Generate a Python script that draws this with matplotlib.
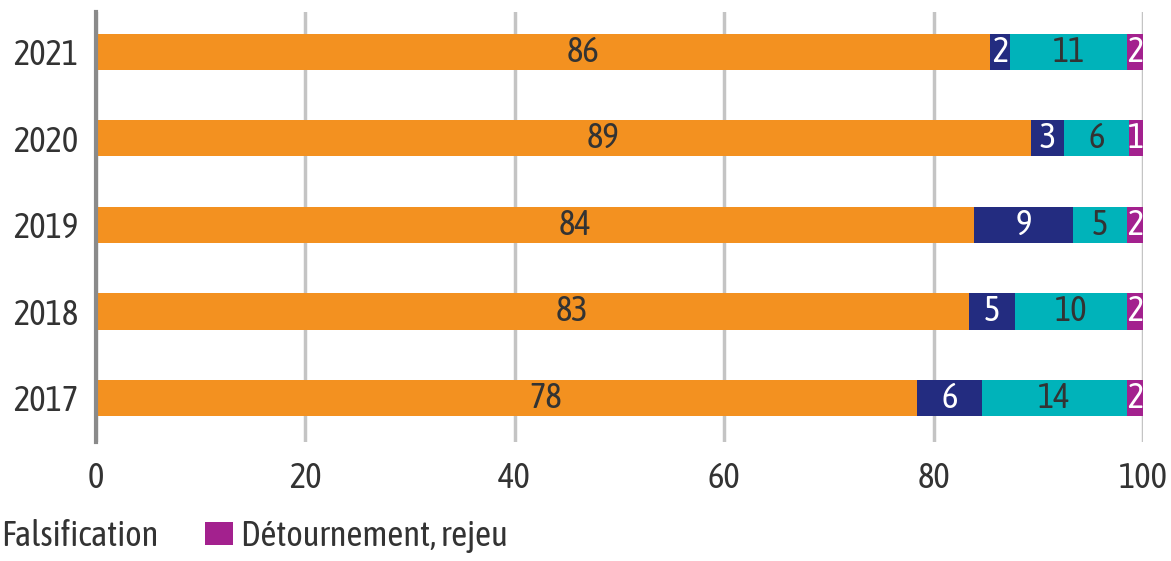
import numpy as np
import matplotlib.pyplot as plt

plt.rcParams['font.family'] = ['Asap Condensed', 'DejaVu Sans']

years = ['2017', '2018', '2019', '2020', '2021']
# bar lengths (percent)
orange = [78.4, 83.4, 83.9, 89.3, 85.4]
navy = [6.2, 4.4, 9.4, 3.2, 1.9]
teal = [13.9, 10.7, 5.2, 6.2, 11.2]
purple = [1.5, 1.5, 1.5, 1.3, 1.5]
# printed labels
orange_lbl = [78, 83, 84, 89, 86]
navy_lbl = [6, 5, 9, 3, 2]
teal_lbl = [14, 10, 5, 6, 11]
purple_lbl = [2, 2, 2, 1, 2]
legend_names = ['Falsification', 'Détournement, rejeu']

colors = ['#F39120', '#232C80', '#00B3BA', '#A3218E']
txt_colors = ['#333333', 'white', '#333333', 'white']
fs = 25

fig = plt.figure(figsize=(11.71, 5.61), dpi=100)
ax = fig.add_axes([96 / 1171, 1 - 442 / 561, (1143 - 96) / 1171, 430 / 561])

y = np.arange(len(years))
left = np.zeros(len(years))
bars = []
series = [(orange, orange_lbl), (navy, navy_lbl), (teal, teal_lbl), (purple, purple_lbl)]
for i, (vals, lbls) in enumerate(series):
    vals = np.array(vals)
    b = ax.barh(y, vals, left=left, height=0.42, color=colors[i], zorder=3)
    bars.append(b)
    for j in range(len(years)):
        cx = left[j] + vals[j] / 2
        if i == 0:
            cx += 3.8
        ax.text(cx, y[j], str(lbls[j]), ha='center', va='center',
                color=txt_colors[i], fontsize=fs, zorder=4)
    left = left + vals

ax.set_xlim(0, 100)
ax.set_ylim(-0.51, 4.46)
ax.set_yticks(y)
ax.set_yticklabels(years)
ax.set_xticks([0, 20, 40, 60, 80, 100])
ax.tick_params(axis='both', length=0, labelsize=fs, colors='#333333')
ax.tick_params(axis='x', pad=14)
ax.tick_params(axis='y', pad=12.5)
ax.grid(axis='x', color='#c4c4c4', linewidth=2.5, zorder=0)
ax.set_axisbelow(True)
for s in ['top', 'right', 'bottom']:
    ax.spines[s].set_visible(False)
ax.spines['left'].set_color('#8a8a8a')
ax.spines['left'].set_linewidth(3)
ax.spines['left'].set_zorder(5)

# legend: first entry's marker sits off the left edge, as in the cropped original
x0 = -0.05
leg = fig.legend([bars[2], bars[3]], legend_names, loc='center left',
                 bbox_to_anchor=(x0, 1 - 536 / 561), ncol=2, frameon=False,
                 fontsize=fs, borderpad=0, borderaxespad=0, handlelength=0.8,
                 handleheight=0.63, handletextpad=0.23, columnspacing=1.35,
                 labelcolor='#333333')
fig.canvas.draw()
tx = leg.get_texts()[0].get_window_extent().x0
leg.set_bbox_to_anchor((x0 + (1 - tx) / fig.bbox.width, 1 - 536 / 561),
                       transform=fig.transFigure)

fig.savefig('out.png', dpi=100)
